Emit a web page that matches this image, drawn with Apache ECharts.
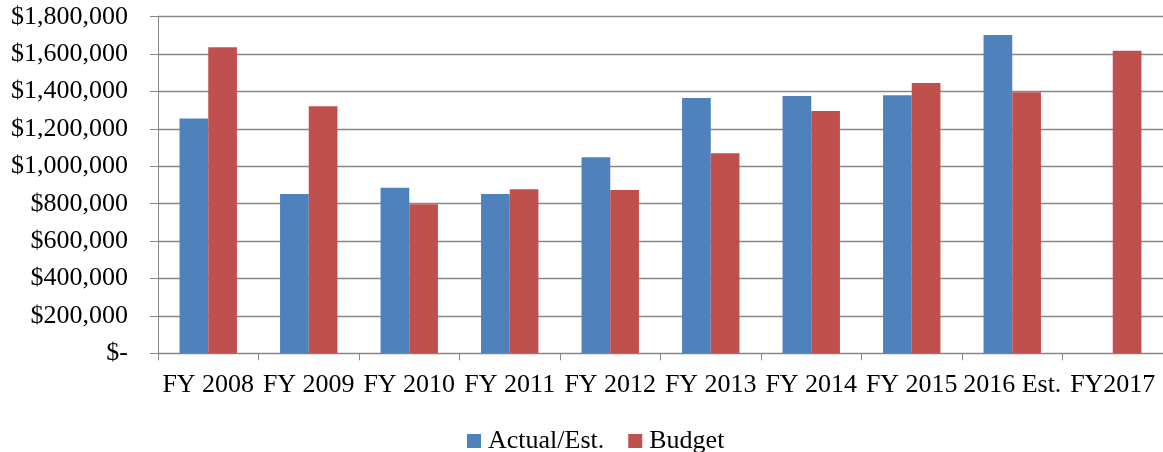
<!DOCTYPE html>
<html>
<head>
<meta charset="utf-8">
<script src="https://cdn.jsdelivr.net/npm/echarts@6/dist/echarts.min.js"></script>
<style>
  html, body { margin: 0; padding: 0; background: #fff; }
  #chart { width: 1163px; height: 452px; }
</style>
</head>
<body>
<div id="chart"></div>
<script>
// Fiscal years shown on the category axis
const categories = ['FY 2008', 'FY 2009', 'FY 2010', 'FY 2011', 'FY 2012',
                    'FY 2013', 'FY 2014', 'FY 2015', '2016 Est.', 'FY2017'];
// Actual / estimated spending (no figure yet for FY2017)
const actualEst = [1255000, 852000, 885000, 852000, 1048000,
                   1365000, 1376000, 1380000, 1702000, null];
// Budgeted amounts
const budget = [1637000, 1321000, 797000, 877000, 873000,
                1070000, 1296000, 1446000, 1396000, 1618000];
// Value axis range
const yMin = 0, yMax = 1800000, yStep = 200000;

const FONT = '"Liberation Serif", "Times New Roman", serif';
const AXIS_GRAY = '#868686';

function money(v) {
  if (v === 0) return '$-';
  return '$' + v.toString().replace(/\B(?=(\d{3})+(?!\d))/g, ',');
}

const chart = echarts.init(document.getElementById('chart'), null, { renderer: 'canvas' });
chart.setOption({
  animation: false,
  backgroundColor: '#ffffff',
  textStyle: { fontFamily: FONT },
  grid: { left: 158, top: 16.7, width: 1011, bottom: 98.7, containLabel: false },
  legend: {
    data: ['Actual/Est.', 'Budget'],
    left: 467,
    top: 428,
    padding: 0,
    icon: 'rect',
    itemWidth: 14,
    itemHeight: 14,
    itemGap: 24,
    textStyle: { fontFamily: FONT, fontSize: 26, color: '#000', lineHeight: 26, padding: [0, 0, 0, 2] }
  },
  xAxis: {
    type: 'category',
    data: categories,
    boundaryGap: true,
    axisLine: { show: true, lineStyle: { color: AXIS_GRAY, width: 1 } },
    axisTick: { show: true, length: 7, lineStyle: { color: AXIS_GRAY } },
    axisLabel: {
      interval: 0,
      margin: 19,
      fontFamily: FONT,
      fontSize: 26,
      color: '#000'
    },
    splitLine: { show: false }
  },
  yAxis: {
    type: 'value',
    min: yMin,
    max: yMax,
    interval: yStep,
    axisLine: { show: true, lineStyle: { color: AXIS_GRAY, width: 1 } },
    axisTick: { show: true, length: 8, lineStyle: { color: AXIS_GRAY } },
    axisLabel: {
      margin: 30,
      fontFamily: FONT,
      fontSize: 26,
      color: '#000',
      formatter: money
    },
    splitLine: { show: true, lineStyle: { color: AXIS_GRAY, width: 1.3 } }
  },
  series: [
    {
      name: 'Actual/Est.',
      type: 'bar',
      data: actualEst,
      barWidth: 28.7,
      barGap: '0%',
      itemStyle: { color: '#4f81bd' }
    },
    {
      name: 'Budget',
      type: 'bar',
      data: budget,
      barWidth: 28.7,
      barGap: '0%',
      itemStyle: { color: '#c0504d' }
    }
  ]
});
</script>
</body>
</html>
